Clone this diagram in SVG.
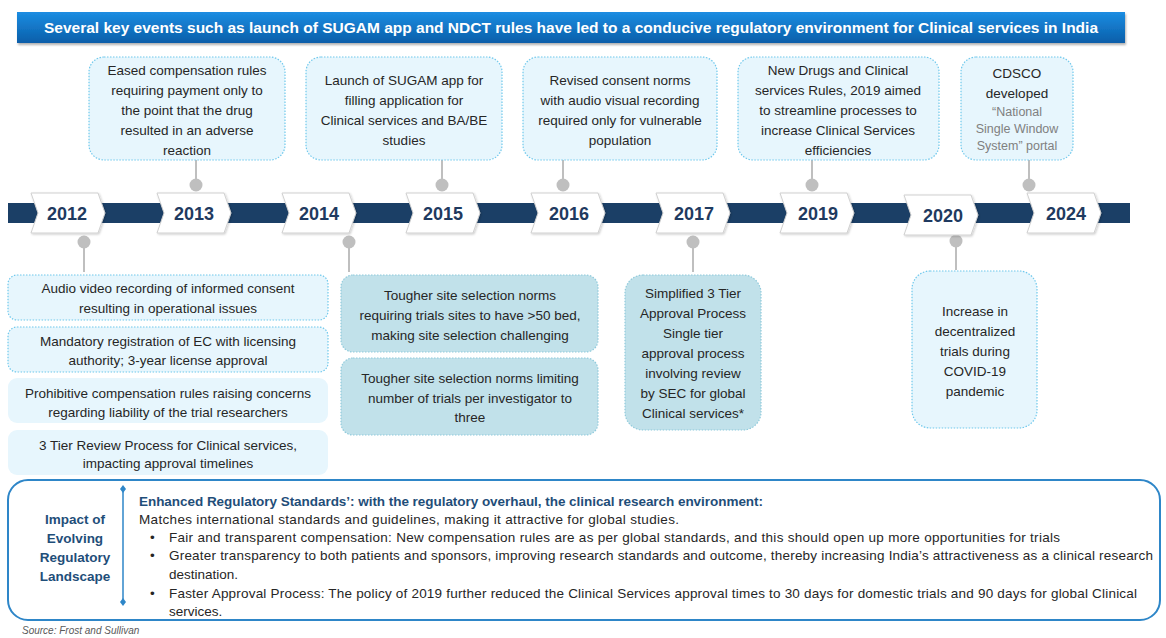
<svg xmlns="http://www.w3.org/2000/svg" width="1166" height="638" viewBox="0 0 1166 638">
<defs>
<linearGradient id="tg" x1="0" y1="0" x2="0" y2="1">
<stop offset="0" stop-color="#1b8de2"/>
<stop offset="1" stop-color="#0a5ea9"/>
</linearGradient>
<filter id="sh" x="-5%" y="-20%" width="110%" height="150%">
<feDropShadow dx="1" dy="2" stdDeviation="1.2" flood-color="#000" flood-opacity="0.3"/>
</filter>
<filter id="csh" x="-10%" y="-10%" width="130%" height="130%">
<feDropShadow dx="1" dy="1" stdDeviation="1" flood-color="#000" flood-opacity="0.2"/>
</filter>
<path id="chev" d="M0,0 H67 L74,20 L67,40 H0 L7,20 Z"/>
</defs>
<style>
text{font-family:"Liberation Sans",Arial,sans-serif}
.t{font-size:13.5px;fill:#262626;text-anchor:middle}
.g{font-size:12.5px;fill:#808080;text-anchor:middle}
.box{fill:#e7f6fd;stroke:#6fc8ec;stroke-width:1.2;stroke-dasharray:1.5 1.5}
.box2{fill:#e7f6fd;stroke:none}
.teal{fill:#c1e1ea;stroke:#8fcadb;stroke-width:1.2;stroke-dasharray:1.5 1.5}
.yr{font-size:18px;font-weight:bold;fill:#1f3a60;text-anchor:middle}
.chev{fill:#fff;stroke:#d0d0d0;stroke-width:1}
.con{stroke:#bfbfbf;stroke-width:2;fill:none}
.dot{fill:#bfbfbf}
.imp{font-size:13.5px;fill:#262626}
.lab{font-size:13.5px;font-weight:bold;fill:#1f4e79;text-anchor:middle}
</style>
<rect width="1166" height="638" fill="#fff"/>

<g id="title">
<rect x="17" y="12" width="1108" height="31" fill="url(#tg)" filter="url(#sh)"/>
<text x="571" y="33" font-size="15.5px" font-weight="bold" fill="#fff" text-anchor="middle" textLength="1054">Several key events such as launch of SUGAM app and NDCT rules have led to a conducive regulatory environment for Clinical services in India</text>
</g>

<g id="timeline">
<rect x="8" y="203" width="1122" height="20" fill="#1b3f66"/>
</g>

<g id="connectors">
<line class="con" x1="196" y1="160" x2="196" y2="185"/>
<circle class="dot" cx="196" cy="185" r="6.5"/>
<line class="con" x1="442" y1="160" x2="442" y2="185"/>
<circle class="dot" cx="442" cy="185" r="6.5"/>
<line class="con" x1="563" y1="160" x2="563" y2="185"/>
<circle class="dot" cx="563" cy="185" r="6.5"/>
<line class="con" x1="812" y1="160" x2="812" y2="185"/>
<circle class="dot" cx="812" cy="185" r="6.5"/>
<line class="con" x1="1029" y1="160" x2="1029" y2="185"/>
<circle class="dot" cx="1029" cy="185" r="6.5"/>
<line class="con" x1="84" y1="242" x2="84" y2="272"/>
<circle class="dot" cx="84" cy="242" r="6.5"/>
<line class="con" x1="349" y1="242" x2="349" y2="272"/>
<circle class="dot" cx="349" cy="242" r="6.5"/>
<line class="con" x1="693" y1="242" x2="693" y2="272"/>
<circle class="dot" cx="693" cy="242" r="6.5"/>
<line class="con" x1="956" y1="241" x2="956" y2="270"/>
<circle class="dot" cx="956" cy="241" r="6.5"/>
</g>

<g id="y2012"><use href="#chev" class="chev" x="31" y="193" filter="url(#csh)"/><text class="yr" x="67" y="220">2012</text></g>
<g id="y2013"><use href="#chev" class="chev" x="157" y="193" filter="url(#csh)"/><text class="yr" x="194" y="220">2013</text></g>
<g id="y2014"><use href="#chev" class="chev" x="282" y="193" filter="url(#csh)"/><text class="yr" x="319" y="220">2014</text></g>
<g id="y2015"><use href="#chev" class="chev" x="406" y="193" filter="url(#csh)"/><text class="yr" x="443" y="220">2015</text></g>
<g id="y2016"><use href="#chev" class="chev" x="531" y="193" filter="url(#csh)"/><text class="yr" x="569" y="220">2016</text></g>
<g id="y2017"><use href="#chev" class="chev" x="656" y="193" filter="url(#csh)"/><text class="yr" x="694" y="220">2017</text></g>
<g id="y2019"><use href="#chev" class="chev" x="780" y="193" filter="url(#csh)"/><text class="yr" x="818" y="220">2019</text></g>
<g id="y2020"><use href="#chev" class="chev" x="904" y="195" filter="url(#csh)"/><text class="yr" x="943" y="222">2020</text></g>
<g id="y2024"><use href="#chev" class="chev" x="1027" y="193" filter="url(#csh)"/><text class="yr" x="1066" y="220">2024</text></g>

<g id="n2013">
<rect class="box" x="89" y="57" width="196" height="103" rx="15"/>
<text class="t" x="187" y="75">Eased compensation rules</text>
<text class="t" x="187" y="95">requiring payment only to</text>
<text class="t" x="187" y="115">the point that the drug</text>
<text class="t" x="187" y="135">resulted in an adverse</text>
<text class="t" x="187" y="155">reaction</text>
</g>
<g id="n2015">
<rect class="box" x="306" y="57" width="196" height="103" rx="15"/>
<text class="t" x="404" y="85">Launch of SUGAM app for</text>
<text class="t" x="404" y="105">filling application for</text>
<text class="t" x="404" y="125">Clinical services and BA/BE</text>
<text class="t" x="404" y="145">studies</text>
</g>
<g id="n2016">
<rect class="box" x="523" y="57" width="194" height="103" rx="15"/>
<text class="t" x="620" y="85">Revised consent norms</text>
<text class="t" x="620" y="105">with audio visual recording</text>
<text class="t" x="620" y="125">required only for vulnerable</text>
<text class="t" x="620" y="145">population</text>
</g>
<g id="n2019">
<rect class="box" x="738" y="57" width="201" height="103" rx="15"/>
<text class="t" x="838" y="75">New Drugs and Clinical</text>
<text class="t" x="838" y="95">services Rules, 2019 aimed</text>
<text class="t" x="838" y="115">to streamline processes to</text>
<text class="t" x="838" y="135">increase Clinical Services</text>
<text class="t" x="838" y="155">efficiencies</text>
</g>
<g id="n2024">
<rect class="box" x="961" y="57" width="112" height="103" rx="15"/>
<text class="t" x="1017" y="78">CDSCO</text>
<text class="t" x="1017" y="98">developed</text>
<text class="g" x="1017" y="116">“National</text>
<text class="g" x="1017" y="133">Single Window</text>
<text class="g" x="1017" y="150">System” portal</text>
</g>

<g id="n2012a">
<rect class="box" x="8" y="275" width="320" height="45" rx="9"/>
<text class="t" x="168" y="293">Audio video recording of informed consent</text>
<text class="t" x="168" y="313">resulting in operational issues</text>
</g>
<g id="n2012b">
<rect class="box" x="8" y="327" width="320" height="45" rx="9"/>
<text class="t" x="168" y="346">Mandatory registration of EC with licensing</text>
<text class="t" x="168" y="365">authority; 3-year license approval</text>
</g>
<g id="n2012c">
<rect class="box2" x="8" y="378" width="320" height="45" rx="9"/>
<text class="t" x="168" y="398">Prohibitive compensation rules raising concerns</text>
<text class="t" x="168" y="417">regarding liability of the trial researchers</text>
</g>
<g id="n2012d">
<rect class="box2" x="8" y="430" width="320" height="45" rx="9"/>
<text class="t" x="168" y="450">3 Tier Review Process for Clinical services,</text>
<text class="t" x="168" y="468">impacting approval timelines</text>
</g>

<g id="n2014a">
<rect class="teal" x="341" y="275" width="257" height="77" rx="12"/>
<text class="t" x="470" y="300">Tougher site selection norms</text>
<text class="t" x="470" y="320">requiring trials sites to have &gt;50 bed,</text>
<text class="t" x="470" y="340">making site selection challenging</text>
</g>
<g id="n2014b">
<rect class="teal" x="341" y="358" width="257" height="77" rx="12"/>
<text class="t" x="470" y="383">Tougher site selection norms limiting</text>
<text class="t" x="470" y="403">number of trials per investigator to</text>
<text class="t" x="470" y="422">three</text>
</g>

<g id="n2017">
<rect class="teal" x="625" y="275" width="136" height="155" rx="18"/>
<text class="t" x="693" y="298">Simplified 3 Tier</text>
<text class="t" x="693" y="318">Approval Process</text>
<text class="t" x="693" y="338">Single tier</text>
<text class="t" x="693" y="358">approval process</text>
<text class="t" x="693" y="378">involving review</text>
<text class="t" x="693" y="398">by SEC for global</text>
<text class="t" x="693" y="418">Clinical services*</text>
</g>

<g id="n2020">
<rect class="box" x="912" y="271" width="125" height="157" rx="18"/>
<text class="t" x="975" y="316">Increase in</text>
<text class="t" x="975" y="336">decentralized</text>
<text class="t" x="975" y="356">trials during</text>
<text class="t" x="975" y="376">COVID-19</text>
<text class="t" x="975" y="396">pandemic</text>
</g>

<g id="impact">
<rect x="8" y="480" width="1152" height="140" rx="20" fill="#fff" stroke="#2e86c8" stroke-width="2"/>
<line x1="123" y1="489" x2="123" y2="602" stroke="#2e86c8" stroke-width="1.5"/>
<path d="M123,485 L126,489 L123,493 L120,489 Z" fill="#2e86c8"/>
<path d="M123,598 L126,602 L123,606 L120,602 Z" fill="#2e86c8"/>
<text class="lab" x="75" y="524">Impact of</text>
<text class="lab" x="75" y="543">Evolving</text>
<text class="lab" x="75" y="562">Regulatory</text>
<text class="lab" x="75" y="581">Landscape</text>
<text class="imp" x="139" y="506" font-weight="bold" style="fill:#1f4e79" textLength="624">Enhanced Regulatory Standards’: with the regulatory overhaul, the clinical research environment:</text>
<text class="imp" x="139" y="524" textLength="540">Matches international standards and guidelines, making it attractive for global studies.</text>
<text class="imp" x="150" y="542">•</text>
<text class="imp" x="169" y="542" textLength="891">Fair and transparent compensation: New compensation rules are as per global standards, and this should open up more opportunities for trials</text>
<text class="imp" x="150" y="560">•</text>
<text class="imp" x="169" y="560" textLength="984">Greater transparency to both patients and sponsors, improving research standards and outcome, thereby increasing India’s attractiveness as a clinical research</text>
<text class="imp" x="169" y="579">destination.</text>
<text class="imp" x="150" y="598">•</text>
<text class="imp" x="169" y="598" textLength="968">Faster Approval Process: The policy of 2019 further reduced the Clinical Services approval times to 30 days for domestic trials and 90 days for global Clinical</text>
<text class="imp" x="169" y="616">services.</text>
</g>

<g id="source">
<text x="22" y="634" font-size="10px" font-style="italic" fill="#595959">Source: Frost and Sullivan</text>
</g>
</svg>
